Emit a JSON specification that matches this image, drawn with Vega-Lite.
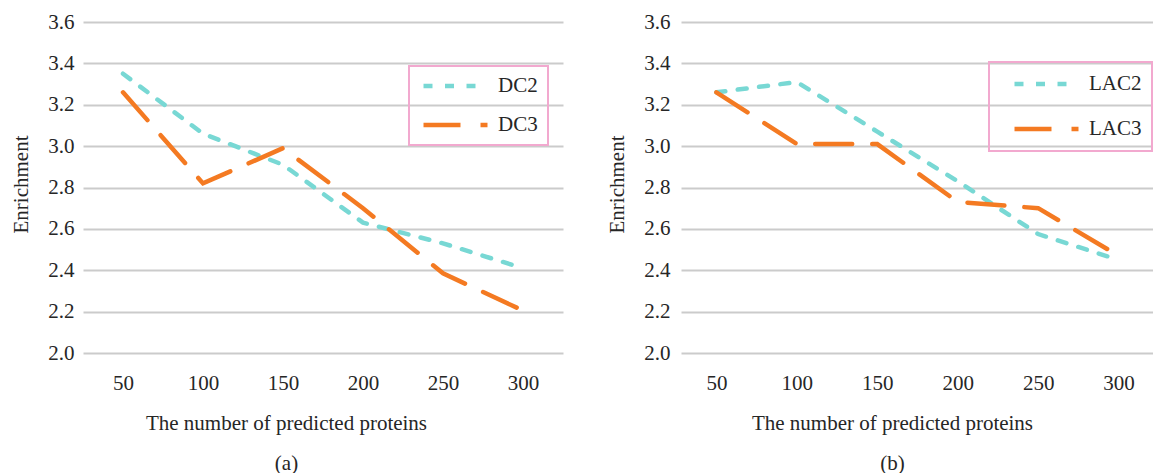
{
  "$schema": "https://vega.github.io/schema/vega-lite/v6.json",
  "padding": {"left": 10, "top": 11, "right": 0, "bottom": 0},
  "bounds": "flush",
  "spacing": 118,
  "resolve": {
    "scale": {"color": "independent", "strokeDash": "independent"},
    "legend": {"color": "independent", "strokeDash": "independent"}
  },
  "datasets": {
    "a": [
      {"n": 50, "series": "DC2", "enrichment": 3.35},
      {"n": 100, "series": "DC2", "enrichment": 3.06},
      {"n": 150, "series": "DC2", "enrichment": 2.91},
      {"n": 200, "series": "DC2", "enrichment": 2.63},
      {"n": 250, "series": "DC2", "enrichment": 2.53},
      {"n": 300, "series": "DC2", "enrichment": 2.41},
      {"n": 50, "series": "DC3", "enrichment": 3.26},
      {"n": 100, "series": "DC3", "enrichment": 2.82},
      {"n": 150, "series": "DC3", "enrichment": 2.99},
      {"n": 200, "series": "DC3", "enrichment": 2.70},
      {"n": 250, "series": "DC3", "enrichment": 2.385},
      {"n": 300, "series": "DC3", "enrichment": 2.205}
    ],
    "b": [
      {"n": 50, "series": "LAC2", "enrichment": 3.26},
      {"n": 100, "series": "LAC2", "enrichment": 3.31},
      {"n": 150, "series": "LAC2", "enrichment": 3.07},
      {"n": 200, "series": "LAC2", "enrichment": 2.83},
      {"n": 250, "series": "LAC2", "enrichment": 2.575},
      {"n": 300, "series": "LAC2", "enrichment": 2.45},
      {"n": 50, "series": "LAC3", "enrichment": 3.26},
      {"n": 100, "series": "LAC3", "enrichment": 3.01},
      {"n": 150, "series": "LAC3", "enrichment": 3.01},
      {"n": 200, "series": "LAC3", "enrichment": 2.73},
      {"n": 250, "series": "LAC3", "enrichment": 2.70},
      {"n": 300, "series": "LAC3", "enrichment": 2.47}
    ]
  },
  "config": {
    "font": "Liberation Serif",
    "view": {"stroke": null},
    "style": {"guide-label": {"font": "Liberation Serif"}, "guide-title": {"font": "Liberation Serif"}},
    "axis": {
      "labelFont": "Liberation Serif",
      "titleFont": "Liberation Serif",
      "labelFontSize": 21,
      "titleFontSize": 21,
      "labelColor": "#262626",
      "titleColor": "#262626",
      "titleFontWeight": "normal",
      "domain": false,
      "ticks": false
    },
    "axisY": {"gridColor": "#cbcbcb", "gridWidth": 1.8, "labelPadding": 9, "labelFont": "Liberation Serif"},
    "axisX": {"grid": false, "labelPadding": 19, "labelFont": "Liberation Serif"},
    "legend": {
      "strokeColor": "#f2a9cf",
      "strokeWidth": 2,
      "labelFont": "Liberation Serif",
      "labelFontSize": 21,
      "labelColor": "#262626",
      "padding": 10,
      "symbolType": "stroke",
      "symbolStrokeWidth": 4.5,
      "symbolSize": 4096
    },
    "line": {"strokeWidth": 4.5, "strokeCap": "round"}
  },
  "hconcat": [
    {
      "width": 480,
      "height": 331,
      "data": {"name": "a"},
      "mark": {"type": "line"},
      "encoding": {
        "x": {
          "field": "n", "type": "ordinal",
          "scale": {"type": "point", "padding": 0.5},
          "axis": {"labelAngle": 0, "labelFont": "Liberation Serif", "title": ["The number of predicted proteins", "(a)"], "titleX": 203, "titleY": 59, "titleLineHeight": 40}
        },
        "y": {
          "field": "enrichment", "type": "quantitative",
          "scale": {"domain": [2, 3.6], "nice": false, "zero": false},
          "axis": {"values": [2, 2.2, 2.4, 2.6, 2.8, 3, 3.2, 3.4, 3.6], "format": ".1f", "labelFont": "Liberation Serif", "title": "Enrichment", "titleX": -62, "titleY": 162, "titleBaseline": "middle"}
        },
        "color": {
          "field": "series", "type": "nominal",
          "scale": {"domain": ["DC2", "DC3"], "range": ["#78d8d4", "#f47a22"]},
          "legend": {"title": null, "orient": "none", "legendX": 326, "legendY": 44, "clipHeight": 20, "rowPadding": 18, "symbolOffset": 2, "labelOffset": 8}
        },
        "strokeDash": {
          "field": "series", "type": "nominal",
          "scale": {"domain": ["DC2", "DC3"], "range": [[9, 12.5], [37, 20]]},
          "legend": {"title": null, "orient": "none", "legendX": 326, "legendY": 44, "clipHeight": 20, "rowPadding": 18, "symbolOffset": 2, "labelOffset": 8}
        }
      }
    },
    {
      "width": 473,
      "height": 331,
      "data": {"name": "b"},
      "mark": {"type": "line"},
      "encoding": {
        "x": {
          "field": "n", "type": "ordinal",
          "scale": {"type": "point", "padding": 0.44},
          "axis": {"labelAngle": 0, "labelFont": "Liberation Serif", "title": ["The number of predicted proteins", "(b)"], "titleX": 211, "titleY": 59, "titleLineHeight": 40}
        },
        "y": {
          "field": "enrichment", "type": "quantitative",
          "scale": {"domain": [2, 3.6], "nice": false, "zero": false},
          "axis": {"values": [2, 2.2, 2.4, 2.6, 2.8, 3, 3.2, 3.4, 3.6], "format": ".1f", "labelFont": "Liberation Serif", "title": "Enrichment", "titleX": -64, "titleY": 162, "titleBaseline": "middle", "labelPadding": 11}
        },
        "color": {
          "field": "series", "type": "nominal",
          "scale": {"domain": ["LAC2", "LAC3"], "range": ["#78d8d4", "#f47a22"]},
          "legend": {"title": null, "orient": "none", "legendX": 308, "legendY": 40, "clipHeight": 24, "rowPadding": 21, "symbolOffset": 13, "labelOffset": 8}
        },
        "strokeDash": {
          "field": "series", "type": "nominal",
          "scale": {"domain": ["LAC2", "LAC3"], "range": [[9, 12.5], [37, 20]]},
          "legend": {"title": null, "orient": "none", "legendX": 308, "legendY": 40, "clipHeight": 24, "rowPadding": 21, "symbolOffset": 13, "labelOffset": 8}
        }
      }
    }
  ]
}
